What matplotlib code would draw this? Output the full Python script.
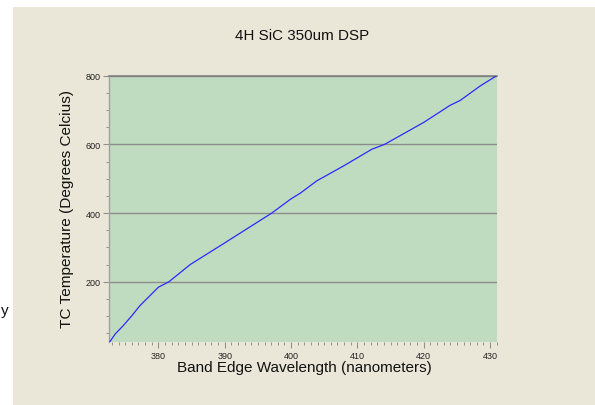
import matplotlib
matplotlib.use("Agg")
import matplotlib.pyplot as plt
from matplotlib.patches import Rectangle
from matplotlib.ticker import MultipleLocator

wavelength = [372.6, 373.5, 374.7, 376.0, 377.2, 378.5, 380.0, 381.6, 384.8, 390.0,
              397.1, 399.9, 401.4, 403.9, 407.9, 412.2, 414.1, 416.5, 420.0, 424.0,
              425.5, 428.5, 431.0]
temperature = [23, 48, 72, 101, 130, 155, 184, 200, 250, 313,
               400, 440, 458, 494, 537, 586, 600, 626, 664, 714,
               728, 770, 800]
x_ticks = [380, 390, 400, 410, 420, 430]
y_ticks = [200, 400, 600, 800]

title = "4H SiC 350um DSP"
xlabel = "Band Edge Wavelength (nanometers)"
ylabel = "TC Temperature (Degrees Celcius)"

plt.rcParams['font.family'] = ['Liberation Sans', 'DejaVu Sans']

W, H = 595, 406
fig = plt.figure(figsize=(W / 100, H / 100), dpi=100)
fig.patch.set_facecolor('white')
bg = Rectangle((13 / W, 0), 1 - 13 / W, 1 - 8 / H, transform=fig.transFigure,
               facecolor='#ebe7d8', edgecolor='none', zorder=-5)
fig.add_artist(bg)

ax = fig.add_axes([109.3 / W, 1 - 343.3 / H, (496.7 - 109.3) / W, (343.3 - 76.7) / H])
ax.set_zorder(2)
ax.set_facecolor('#c0dcc0')
ax.plot(wavelength, temperature, color='#2a2aff', lw=0.9, zorder=3)
ax.set_xlim(372.6, 431.0)
ax.set_ylim(23.5, 800)
ax.set_xticks(x_ticks)
ax.set_yticks(y_ticks)
ax.xaxis.set_minor_locator(MultipleLocator(1))
ax.yaxis.set_minor_locator(MultipleLocator(50))
ax.grid(axis='y', which='major', color='#8c8c8c', lw=1.0, zorder=1)
for s in ['right', 'bottom']:
    ax.spines[s].set_visible(False)
ax.spines['top'].set_color('#808080')
ax.spines['top'].set_linewidth(1.2)
ax.spines['left'].set_color('#a0a0a0')
ax.spines['left'].set_linewidth(1.0)
ax.tick_params(which='major', direction='out', length=4, width=0.8, color='#909090',
               labelsize=6.5, labelcolor='#222222', pad=2)
ax.tick_params(which='minor', direction='out', length=2.5, width=0.7, color='#909090')

fig.text(302.5 / W, 1 - 36 / H, title, ha='center', va='center', fontsize=10.9, color='#111111')
fig.text(304.5 / W, 1 - 368 / H, xlabel, ha='center', va='center', fontsize=11, color='#111111')
fig.text(66.5 / W, 1 - 209 / H, ylabel, ha='center', va='center', rotation=90, fontsize=11.1,
         color='#111111')
fig.text(0.5 / W, 1 - 311 / H, "y", ha='left', va='center', fontsize=11, color='#111111')

fig.savefig("out.png", dpi=100, facecolor='white')
